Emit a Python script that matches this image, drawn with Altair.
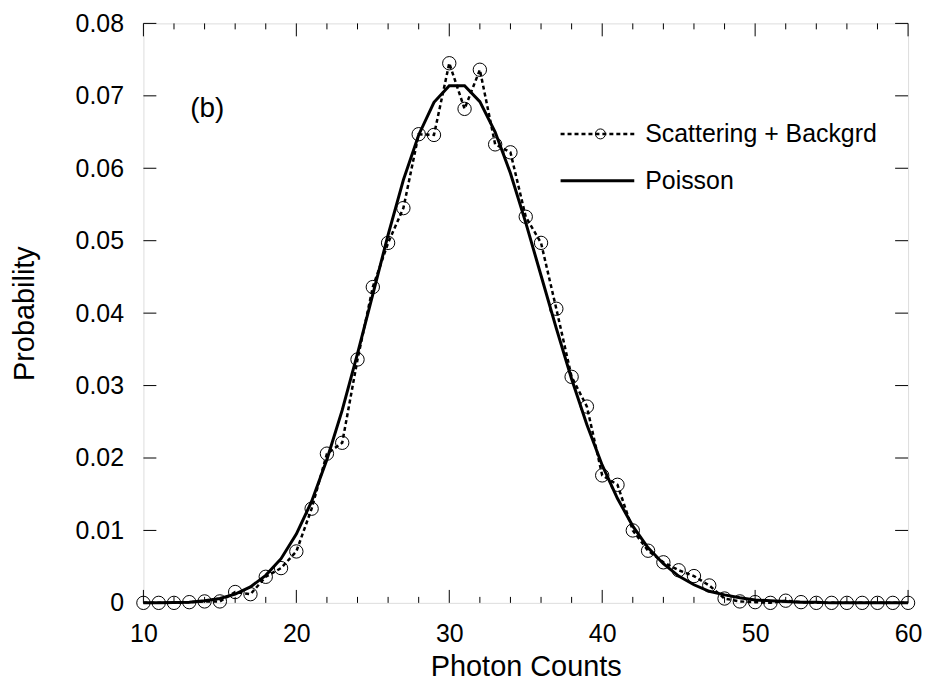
import altair as alt
import pandas as pd

counts = list(range(10, 61))
scatter_prob = [
    0.0000, 0.0000, 0.0000, 0.0001, 0.0002, 0.0002, 0.0015, 0.0012, 0.0036, 0.0048,
    0.0071, 0.0130, 0.0206, 0.0221, 0.0336, 0.0436, 0.0497, 0.0545, 0.0647, 0.0646,
    0.0745, 0.0682, 0.0736, 0.0633, 0.0622, 0.0533, 0.0497, 0.0406, 0.0312, 0.0271,
    0.0176, 0.0163, 0.0100, 0.0072, 0.0056, 0.0045, 0.0037, 0.0024, 0.0006, 0.0002,
    0.0001, 0.0000, 0.0003, 0.0001, 0.0000, 0.0000, 0.0000, 0.0000, 0.0000, 0.0000,
    0.0000,
]
poisson_prob = [
    0.0000, 0.0000, 0.00005, 0.0001, 0.0003, 0.0006, 0.0012, 0.0022, 0.0038, 0.0061,
    0.0095, 0.0140, 0.0198, 0.0266, 0.0344, 0.0426, 0.0508, 0.0584, 0.0646, 0.0691,
    0.0714, 0.0714, 0.0692, 0.0650, 0.0593, 0.0525, 0.0452, 0.0379, 0.0309, 0.0246,
    0.0190, 0.0144, 0.0106, 0.0076, 0.0054, 0.0037, 0.0025, 0.0016, 0.0011, 0.0007,
    0.0004, 0.0003, 0.0002, 0.0001, 0.0001, 0.0000, 0.0000, 0.0000, 0.0000, 0.0000,
    0.0000,
]
legend_labels = ["Scattering + Backgrd", "Poisson"]
panel_label = "(b)"
x_major = [10, 20, 30, 40, 50, 60]
x_minor = [v for v in range(12, 60, 2) if v % 10 != 0]
y_ticks = [0.0, 0.01, 0.02, 0.03, 0.04, 0.05, 0.06, 0.07, 0.08]

W, H = 768, 582
FONT = "Liberation Sans"

df = pd.DataFrame({"counts": counts, "scatter": scatter_prob, "poisson": poisson_prob})
xs = alt.Scale(domain=[10, 60], nice=False, zero=False)
ys = alt.Scale(domain=[0, 0.08], nice=False)

x_axis = alt.Axis(values=x_major, ticks=False, tickSize=0, domain=False, grid=False,
                  labelFontSize=25, labelFont=FONT, labelColor="black", labelPadding=19,
                  title="Photon Counts", titleFontSize=29, titleFont=FONT,
                  titleFontWeight="normal", titleColor="black", titlePadding=6,
                  labelFlush=False)
y_axis = alt.Axis(values=y_ticks, ticks=False, tickSize=0, domain=False, grid=False,
                  labelExpr="datum.value == 0 ? '0' : format(datum.value, '.2f')",
                  labelFontSize=25, labelFont=FONT, labelColor="black", labelPadding=20,
                  title="Probability", titleFontSize=29, titleFont=FONT,
                  titleFontWeight="normal", titleColor="black", titlePadding=36,
                  labelFlush=False)

base = alt.Chart(df)
dotted = base.mark_line(color="black", strokeWidth=2.5, strokeDash=[4, 3]).encode(
    x=alt.X("counts:Q", scale=xs, axis=x_axis),
    y=alt.Y("scatter:Q", scale=ys, axis=y_axis),
)
circles = base.mark_point(shape="circle", size=180, color="black", filled=False,
                          strokeWidth=1, opacity=1).encode(
    x=alt.X("counts:Q", scale=xs), y=alt.Y("scatter:Q", scale=ys))
solid = base.mark_line(color="black", strokeWidth=3).encode(
    x=alt.X("counts:Q", scale=xs), y=alt.Y("poisson:Q", scale=ys))

# inward tick marks
dmaj = pd.DataFrame({"t": x_major})
dmin = pd.DataFrame({"t": x_minor})
dy = pd.DataFrame({"v": y_ticks})
tick_layers = [
    alt.Chart(dmaj).mark_rule(color="black", strokeWidth=1).encode(
        x=alt.X("t:Q", scale=xs), y=alt.value(H), y2=alt.value(H - 13)),
    alt.Chart(dmin).mark_rule(color="black", strokeWidth=1).encode(
        x=alt.X("t:Q", scale=xs), y=alt.value(H), y2=alt.value(H - 6)),
    alt.Chart(dmaj).mark_rule(color="black", strokeWidth=1).encode(
        x=alt.X("t:Q", scale=xs), y=alt.value(0), y2=alt.value(13)),
    alt.Chart(dmin).mark_rule(color="black", strokeWidth=1).encode(
        x=alt.X("t:Q", scale=xs), y=alt.value(0), y2=alt.value(6)),
    alt.Chart(dy).mark_rule(color="black", strokeWidth=1).encode(
        y=alt.Y("v:Q", scale=ys), x=alt.value(0), x2=alt.value(13)),
    alt.Chart(dy).mark_rule(color="black", strokeWidth=1).encode(
        y=alt.Y("v:Q", scale=ys), x=alt.value(W - 13), x2=alt.value(W)),
]

# legend
leg1 = pd.DataFrame({"label": [legend_labels[0]]})
leg2 = pd.DataFrame({"label": [legend_labels[1]]})
ly1, ly2 = 111, 158
legend_layers = [
    alt.Chart(leg1).mark_rule(color="black", strokeWidth=2.5, strokeDash=[4, 3]).encode(
        x=alt.value(419), x2=alt.value(493), y=alt.value(ly1)),
    alt.Chart(leg1).mark_point(shape="circle", size=100, color="black", filled=False,
                               strokeWidth=1, opacity=1).encode(
        x=alt.value(459), y=alt.value(ly1)),
    alt.Chart(leg1).mark_text(align="left", baseline="middle", fontSize=25, font=FONT,
                              color="black").encode(
        x=alt.value(504), y=alt.value(ly1), text="label:N"),
    alt.Chart(leg2).mark_rule(color="black", strokeWidth=3).encode(
        x=alt.value(419), x2=alt.value(493), y=alt.value(ly2)),
    alt.Chart(leg2).mark_text(align="left", baseline="middle", fontSize=25, font=FONT,
                              color="black").encode(
        x=alt.value(504), y=alt.value(ly2), text="label:N"),
    alt.Chart(pd.DataFrame({"label": [panel_label]})).mark_text(
        align="left", baseline="middle", fontSize=28, font=FONT, color="black").encode(
        x=alt.value(47), y=alt.value(86), text="label:N"),
]

chart = alt.layer(dotted, circles, solid, *tick_layers, *legend_layers).properties(
    width=W, height=H,
    autosize=alt.AutoSizeParams(type="none"),
    padding={"left": 136, "top": 14, "right": 16, "bottom": 75},
).configure_view(stroke="black", strokeWidth=1).configure(background="white")

chart.save("out.html", embed_options={"renderer": "svg", "actions": False})
